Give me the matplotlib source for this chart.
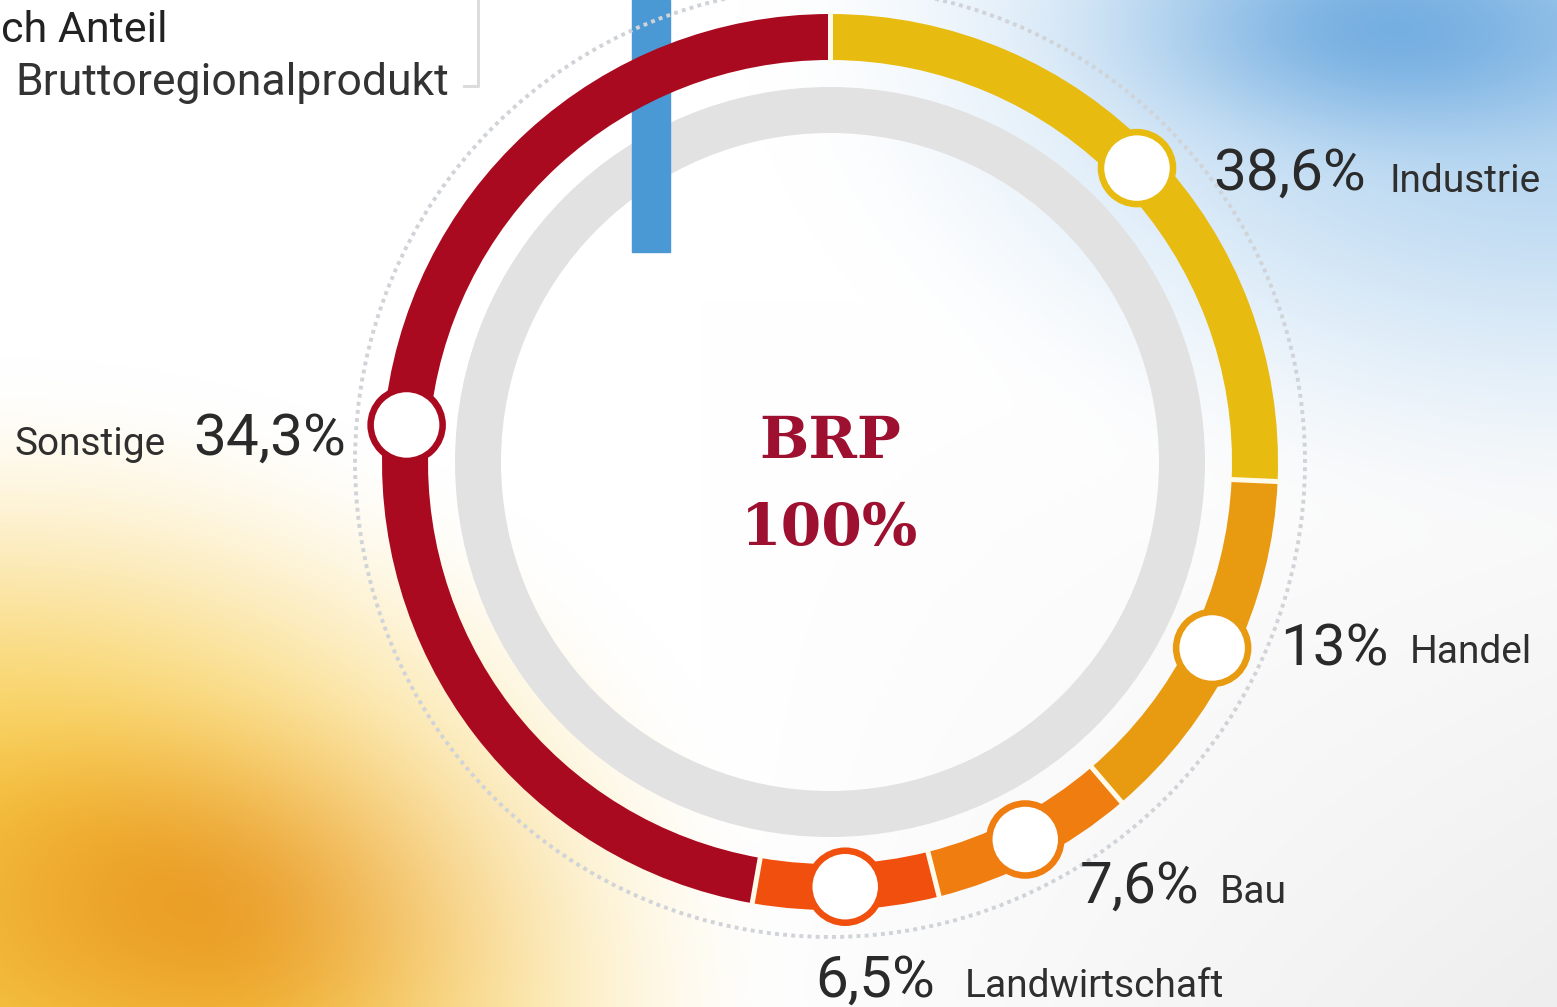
import numpy as np
import matplotlib
matplotlib.use("Agg")
import matplotlib.pyplot as plt
from matplotlib.patches import Circle, Rectangle

# ------------------------------------------------------------
# data
# ------------------------------------------------------------
sektoren = ["Industrie", "Handel", "Bau", "Landwirtschaft", "Sonstige"]
anteil_txt = ["38,6%", "13%", "7,6%", "6,5%", "34,3%"]
# drawn arc length of every segment in the graphic [deg]
bogen_grad = [92.5, 46.9, 26.5, 24.1, 170.0]
farben = ["#e8bb10", "#e89a10", "#ef7d10", "#f04f0e", "#aa0a20"]

titel_1 = "ch Anteil"
titel_2 = "Bruttoregionalprodukt"
mitte_1 = "BRP"
mitte_2 = "100%"

# ------------------------------------------------------------
# layout (pixel space)
# ------------------------------------------------------------
W, H = 1557, 1007
cx, cy = 830, 462
r_ring, w_ring = 448, 46
r_grau, w_grau = 375, 46
r_punkt = 475


def smooth(e0, e1, v):
    t = np.clip((v - e0) / (e1 - e0), 0, 1)
    return t * t * (3 - 2 * t)


fig = plt.figure(figsize=(W / 100, H / 100), dpi=100)
ax = fig.add_axes([0, 0, 1, 1])

#------- background ---------------------------------------------
yy, xx = np.mgrid[0:H, 0:W].astype(float)
img = np.ones((H, W, 3))

g = np.clip((xx - 700) / 900, 0, 1) * np.clip((yy - 300) / 700, 0, 1)
img = img * (1 - 0.07 * g[..., None])

# sky, top right
db = np.sqrt(((xx - W) / 820) ** 2 + (yy / 560) ** 2)
ab = 1 - smooth(0.15, 1.0, db)
deep = 1 - smooth(0.0, 1.0, np.sqrt(((xx - 1360) / 440) ** 2 + ((yy - 30) / 160) ** 2))
hell = np.array([0.70, 0.83, 0.94])
tief = np.array([0.45, 0.68, 0.88])
bcol = hell * (1 - deep[..., None]) + tief * deep[..., None]
img = img * (1 - ab[..., None]) + bcol * ab[..., None]

# corn field, bottom left
dyl = np.sqrt((xx / 800) ** 2 + ((yy - H) / 650) ** 2)
ay = 1 - smooth(0.25, 1.0, dyl)
ao = 1 - smooth(0.0, 1.0, np.sqrt(((xx - 220) / 450) ** 2 + ((yy - 900) / 250) ** 2))
gelb = np.array([0.97, 0.79, 0.27])
orange = np.array([0.92, 0.62, 0.15])
ycol = gelb * (1 - ao[..., None]) + orange * ao[..., None]
img = img * (1 - ay[..., None]) + ycol * ay[..., None]

ax.imshow(np.clip(img, 0, 1), extent=(0, W, H, 0), origin="upper", zorder=0)

#------- inner grey ring + blue bar ------------------------------
ax.add_patch(Circle((cx, cy), r_grau - w_grau / 2, fill=False, edgecolor="#e2e2e2",
                    linewidth=w_grau * 0.72, zorder=1))
ax.add_patch(Rectangle((632, 0), 38, 252, color="#4a98d4", zorder=2))

# dotted outer circle
ax.add_patch(Circle((cx, cy), r_punkt, fill=False, edgecolor="#d0d3d8",
                    linewidth=2.8, linestyle=(0, (1, 1.1)), zorder=3))

#------- donut ---------------------------------------------------
wedges, _ = ax.pie(bogen_grad, colors=farben, startangle=-90, counterclock=True,
                   radius=r_ring, center=(cx, cy),
                   wedgeprops=dict(width=w_ring, linewidth=0))
for wd in wedges:
    wd.set_zorder(4)

grenzen = np.concatenate([[0], np.cumsum(bogen_grad)])
for phi in grenzen[:-1]:
    t = np.deg2rad(phi - 90)
    rr = np.array([r_ring - w_ring - 3, r_ring + 3])
    ax.plot(cx + rr * np.cos(t), cy + rr * np.sin(t), color="#fffbea",
            linewidth=3.6, solid_capstyle="butt", zorder=5)

mitten = (grenzen[:-1] + grenzen[1:]) / 2
r_mark = r_ring - w_ring / 2
for phi, col in zip(mitten, farben):
    t = np.deg2rad(phi - 90)
    ax.add_patch(Circle((cx + r_mark * np.cos(t), cy + r_mark * np.sin(t)), 36,
                        facecolor="white", edgecolor=col, linewidth=4.7, zorder=6))

#------- texts ---------------------------------------------------
sans = ["Roboto", "DejaVu Sans"]
zahl_kw = dict(family=sans, fontsize=42, color="#2a2a2a", va="baseline", zorder=7)
name_kw = dict(family=sans, fontsize=28, color="#2f2f2f", va="baseline", zorder=7)

# number position / label position (left x, baseline y)
pos_zahl = [(1213, 190), (1280, 665), (1080, 903), (815, 997), (193, 455)]
pos_name = [(1390, 192), (1410, 663), (1220, 903), (965, 997), (15, 455)]
for i in range(len(sektoren)):
    ax.text(pos_zahl[i][0], pos_zahl[i][1], anteil_txt[i], ha="left", **zahl_kw)
    ax.text(pos_name[i][0], pos_name[i][1], sektoren[i], ha="left", **name_kw)

ax.text(1, 42, titel_1, family=sans, fontsize=31, color="#222222",
        ha="left", va="baseline", zorder=7)
ax.text(15, 95, titel_2, family=sans, fontsize=32, color="#333333",
        ha="left", va="baseline", zorder=7)
ax.plot([478, 478, 464], [0, 86, 86], color="#dcdcdc", linewidth=2.2, zorder=2)

ax.text(830, 458, mitte_1, family=["DejaVu Serif"], fontweight="bold", fontsize=42,
        color="#9e1030", ha="center", va="baseline", zorder=7)
ax.text(830, 545, mitte_2, family=["DejaVu Serif"], fontweight="bold", fontsize=42,
        color="#9e1030", ha="center", va="baseline", zorder=7)

ax.set_xlim(0, W)
ax.set_ylim(H, 0)
ax.set_aspect("auto")
ax.axis("off")

fig.savefig("out.png", dpi=100)
